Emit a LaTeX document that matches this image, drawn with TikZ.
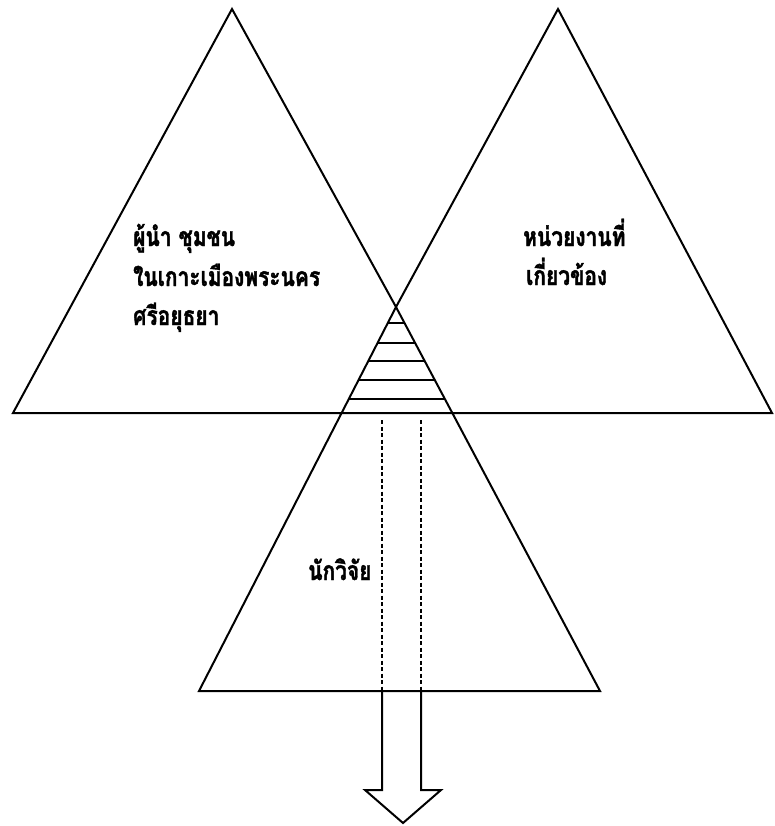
\documentclass[tikz,border=0pt]{standalone}
\usepackage{fontspec}
\newfontfamily\thaifont[Script=Thai,FakeStretch=0.79,FakeBold=1.5]{Loma}
\usetikzlibrary{calc}
\begin{document}
\begin{tikzpicture}[x=1pt,y=-1pt,
  edge/.style={line width=2pt,line join=miter},
  hatch/.style={line width=1.7pt},
  dashline/.style={line width=1.3pt,dash pattern=on 4pt off 2.5pt},
  lbl/.style={anchor=base west,inner sep=0pt,font=\thaifont\bfseries\fontsize{26.5}{30}\selectfont}]
\useasboundingbox (0,0) rectangle (774,826);
% key points
\coordinate (A1) at (232,9);
\coordinate (A2) at (558,9);
\coordinate (L) at (13,413);
\coordinate (R) at (772,413);
\coordinate (C) at (396,307);
\coordinate (BL) at (199,691);
\coordinate (BR) at (600,691);
% triangles
\draw[edge] (A1) -- (L) -- (R) -- (A2) -- (C) -- (BL) -- (BR) -- (C) -- cycle;
% hatch lines in the overlap
\foreach \t in {0.0417,0.0938,0.1406,0.1901,0.2396}{
  \draw[hatch] ($(C)!\t!(BL)$) -- ($(C)!\t!(BR)$);
}
% arrow
\coordinate (D1) at (382,420);
\coordinate (D2) at (421,420);
\coordinate (S1) at (382,691);
\coordinate (S2) at (421,691);
\coordinate (W1) at (382,790);
\coordinate (W2) at (421,790);
\coordinate (H1) at (365,790);
\coordinate (H2) at (441,790);
\coordinate (T) at (403,823);
\draw[dashline] (D1) -- (S1);
\draw[dashline] (D2) -- (S2);
\draw[edge] (S1) -- (W1) -- (H1) -- (T) -- (H2) -- (W2) -- (S2);
% labels
\node[lbl] (t1) at (133,246) {ผู้นำ ชุมชน};
\node[lbl] (t2) at (133,286) {ในเกาะเมืองพระนคร};
\node[lbl] (t3) at (133,325) {ศรีอยุธยา};
\node[lbl] (t4) at (523,246) {หน่วยงานที่};
\node[lbl] (t5) at (526,285) {เกี่ยวข้อง};
\node[lbl] (t6) at (308,580) {นักวิจัย};
\end{tikzpicture}
\end{document}
